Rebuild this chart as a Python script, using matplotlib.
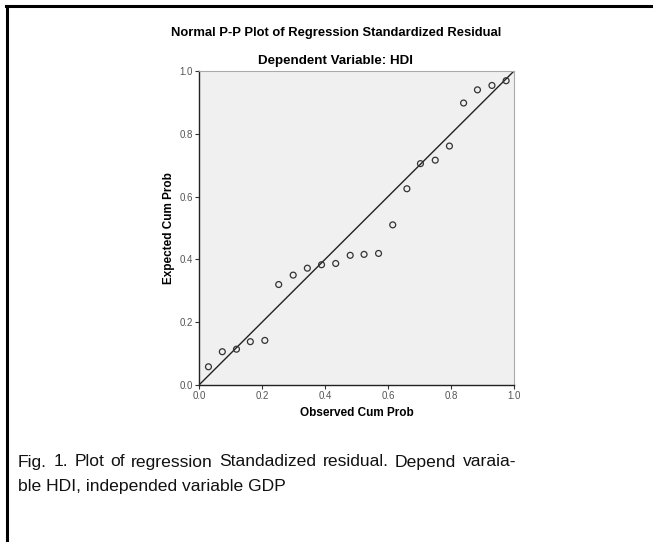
import numpy as np
import matplotlib
matplotlib.use("Agg")
import matplotlib.pyplot as plt
from matplotlib.lines import Line2D

# observed vs expected cumulative probabilities
observed = [0.030, 0.074, 0.119, 0.163, 0.209, 0.253, 0.299, 0.344, 0.389, 0.434, 0.480,
            0.524, 0.570, 0.615, 0.660, 0.703, 0.750, 0.795, 0.840, 0.884, 0.930, 0.975]
expected = [0.058, 0.106, 0.114, 0.138, 0.142, 0.320, 0.350, 0.372, 0.383, 0.387, 0.413,
            0.416, 0.419, 0.510, 0.625, 0.705, 0.716, 0.761, 0.898, 0.940, 0.954, 0.969]
ticks = [0.0, 0.2, 0.4, 0.6, 0.8, 1.0]
tick_labels = ["0.0", "0.2", "0.4", "0.6", "0.8", "1.0"]
caption1 = "Fig. 1. Plot of regression Standadized residual. Depend varaia-"
caption2 = "ble HDI, independed variable GDP"

plt.rcParams['font.family'] = ['Liberation Sans', 'DejaVu Sans']

W, H = 653, 542
fig = plt.figure(figsize=(W / 100, H / 100), dpi=100)
fig.patch.set_facecolor("white")

# outer frame (top and left edges)
fig.add_artist(Line2D([6 / W, 1.0], [1 - 6 / H, 1 - 6 / H], color="black", lw=2.2,
                      transform=fig.transFigure))
fig.add_artist(Line2D([7 / W, 7 / W], [0.0, 1 - 6 / H], color="black", lw=2.2,
                      transform=fig.transFigure))

ax = fig.add_axes([199 / W, 1 - 385 / H, 315 / W, 314 / H])
ax.set_facecolor("#f0f0f0")
ax.plot([0, 1], [0, 1], color="#222222", lw=1.0, zorder=2)
ax.scatter(observed, expected, s=18, facecolors="none", edgecolors="#333333",
           linewidths=0.9, zorder=3)

ax.set_xlim(0, 1)
ax.set_ylim(0, 1)
ax.set_xticks(ticks)
ax.set_xticklabels(tick_labels)
ax.set_yticks(ticks)
ax.set_yticklabels(tick_labels)
ax.tick_params(labelsize=7, labelcolor="#555555", length=3, width=0.8,
               color="#333333", pad=1.5)
for s in ["left", "bottom"]:
    ax.spines[s].set_color("#222222")
    ax.spines[s].set_linewidth(1.0)
for s in ["top", "right"]:
    ax.spines[s].set_color("#aaaaaa")
    ax.spines[s].set_linewidth(0.8)

ax.set_xlabel("Observed Cum Prob", fontsize=8.5, fontweight="bold", labelpad=4)
ax.set_ylabel("Expected Cum Prob", fontsize=8.5, fontweight="bold", labelpad=3)

fig.text(336 / W, 1 - 33 / H, "Normal P-P Plot of Regression Standardized Residual",
         ha="center", va="center", fontsize=9.4, fontweight="bold")
fig.text(336 / W, 1 - 61 / H, "Dependent Variable: HDI",
         ha="center", va="center", fontsize=9.6, fontweight="bold")

# caption: first line justified between x0 and x1
x0, x1 = 18, 516
cap_size = 12.6
renderer = fig.canvas.get_renderer()
words = caption1.split(" ")
arts = [fig.text(0, 1 - 462 / H, w, ha="left", va="center", fontsize=cap_size,
                 color="#111111") for w in words]
widths = [a.get_window_extent(renderer).width for a in arts]
gap = (x1 - x0 - sum(widths)) / (len(words) - 1)
x = x0
for a, w in zip(arts, widths):
    a.set_x(x / W)
    x += w + gap
fig.text(x0 / W, 1 - 487 / H, caption2, ha="left", va="center", fontsize=cap_size,
         color="#111111")

fig.savefig("out.png", dpi=100)
